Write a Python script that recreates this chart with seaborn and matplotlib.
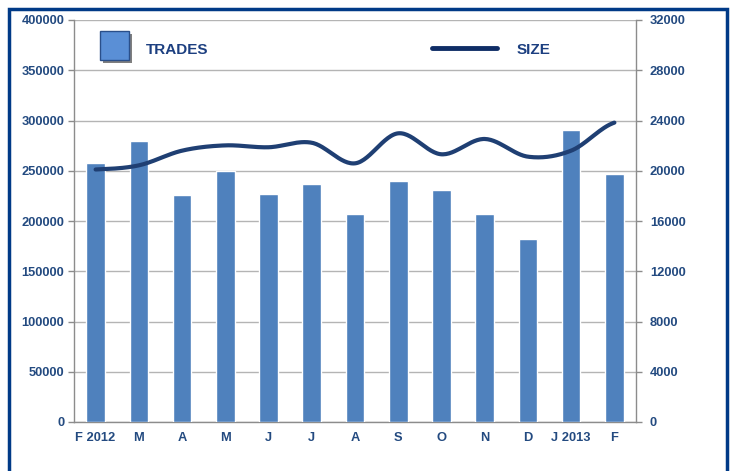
import numpy as np
import pandas as pd
import matplotlib
matplotlib.use("Agg")
import matplotlib.pyplot as plt
from matplotlib.patches import Rectangle
from matplotlib.lines import Line2D
import seaborn as sns

# Data
months = ['F 2012', 'M', 'A', 'M', 'J', 'J', 'A', 'S', 'O', 'N', 'D', 'J 2013', 'F']
trades = [258000, 280000, 226000, 250000, 227000, 236500, 207000, 239500, 231000, 207000, 182000, 291000, 247000]
size = [20100, 20430, 21600, 22020, 21870, 22230, 20590, 22980, 21310, 22530, 21120, 21600, 23830]

bar_color = '#4f81bd'
line_color = '#1f3f73'
text_color = '#234a80'
frame_color = '#003a87'

sns.set_theme(style='white')
plt.rcParams['font.family'] = ['Liberation Sans', 'DejaVu Sans']
plt.rcParams['font.weight'] = 'bold'

df = pd.DataFrame({'key': [str(i) for i in range(len(months))], 'month': months,
                   'trades': trades, 'size': size})

fig = plt.figure(figsize=(7.36, 4.71), dpi=100)
ax = fig.add_axes([74 / 736, 49 / 471, 562 / 736, 402 / 471])

sns.barplot(data=df, x='key', y='trades', color=bar_color, saturation=1,
            width=0.43, ax=ax, zorder=3)

ax.set_xlim(-0.5, len(months) - 0.5)
ax.set_ylim(0, 400000)
ax.set_yticks(np.arange(0, 400001, 50000))
ax.set_yticklabels([str(v) for v in range(0, 400001, 50000)])
ax.yaxis.grid(True, color='#b4b4b4', linewidth=1.0, zorder=0)
ax.set_axisbelow(True)
ax.set_xlabel('')
ax.set_ylabel('')
ax.set_xticks(range(len(months)))
ax.set_xticklabels(months)
ax.set_xticks(np.arange(-0.5, len(months), 1.0), minor=True)
ax.tick_params(axis='x', which='major', length=0, pad=7, labelsize=9.3, labelcolor=text_color)
ax.tick_params(axis='x', which='minor', length=4, color='#8c8c8c', width=1)
ax.tick_params(axis='y', length=4, color='#8c8c8c', width=1, labelsize=9.3,
               labelcolor=text_color, left=True, pad=3)
for s in ['left', 'right', 'bottom']:
    ax.spines[s].set_color('#8c8c8c')
    ax.spines[s].set_linewidth(1)
ax.spines['top'].set_visible(False)

# secondary axis for SIZE
ax2 = ax.twinx()
ax2.set_ylim(0, 32000)
ax2.set_yticks(np.arange(0, 32001, 4000))
ax2.set_yticklabels([str(v) for v in range(0, 32001, 4000)])
ax2.tick_params(axis='y', length=4, color='#8c8c8c', width=1, labelsize=9.3,
                labelcolor=text_color, right=True, pad=6)
for s in ['left', 'right', 'bottom', 'top']:
    ax2.spines[s].set_visible(False)

# smoothed line (Catmull-Rom through the data points, like Excel's smoothed line)
x = np.arange(len(size), dtype=float)
y = np.array(size, dtype=float)
xs, ys = [], []
for i in range(len(x) - 1):
    p0 = y[i - 1] if i > 0 else y[i]
    p3 = y[i + 2] if i + 2 < len(y) else y[i + 1]
    p1, p2 = y[i], y[i + 1]
    t = np.linspace(0, 1, 30)
    seg = 0.5 * ((2 * p1) + (-p0 + p2) * t + (2 * p0 - 5 * p1 + 4 * p2 - p3) * t ** 2
                 + (-p0 + 3 * p1 - 3 * p2 + p3) * t ** 3)
    xs.extend(x[i] + t)
    ys.extend(seg)
sns.lineplot(x=xs, y=ys, color=line_color, linewidth=3, ax=ax2, sort=False,
             solid_capstyle='round')

# legend drawn by hand, like the original
fig.patches.append(Rectangle((103 / 736, 1 - 63 / 471), 29 / 736, 29 / 471,
                             transform=fig.transFigure, facecolor='#7f7f7f',
                             edgecolor='none', zorder=5))
fig.patches.append(Rectangle((100 / 736, 1 - 60 / 471), 29 / 736, 29 / 471,
                             transform=fig.transFigure, facecolor='#5a8fd6',
                             edgecolor='#2a4f8a', linewidth=1, zorder=6))
fig.text(146 / 736, 1 - 50 / 471, 'TRADES', fontsize=11, fontweight='bold',
         color='#1c3f80', va='center', ha='left')
fig.lines.append(Line2D([432 / 736, 497 / 736], [1 - 48 / 471, 1 - 48 / 471],
                        transform=fig.transFigure, color='#0f2d66', linewidth=3.5))
fig.text(517 / 736, 1 - 50 / 471, 'SIZE', fontsize=11, fontweight='bold',
         color='#1c3f80', va='center', ha='left')

# outer frame
fig.patches.append(Rectangle((9 / 736, -0.05), 718 / 736, 1 - 9 / 471 + 0.05,
                             transform=fig.transFigure, facecolor='none',
                             edgecolor=frame_color, linewidth=2.5, zorder=10))

fig.savefig('out.png', dpi=100)
